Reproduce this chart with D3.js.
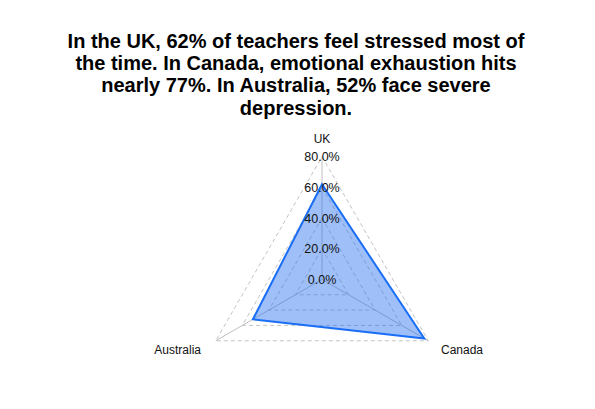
<!DOCTYPE html>
<html>
<head>
<meta charset="utf-8">
<script src="https://cdn.jsdelivr.net/npm/d3@7"></script>
<style>
  body { margin: 0; background: #fff; }
  svg { display: block; font-family: "Liberation Sans", Arial, sans-serif; }
</style>
</head>
<body>
<div id="chart"></div>
<script>
var countries = ["UK", "Canada", "Australia"];
var values = [0.62, 0.77, 0.52];
var ticks = [0, 0.2, 0.4, 0.6, 0.8];
var titleLines = [
  "In the UK, 62% of teachers feel stressed most of",
  "the time. In Canada, emotional exhaustion hits",
  "nearly 77%. In Australia, 52% face severe",
  "depression."
];

function init() {
  var w = 595;
  var h = 409;
  var cx = 322;
  var cy = 279.4;
  var radius = 122.7;

  var svg = d3.select("#chart")
    .append("svg")
    .attr("width", w)
    .attr("height", h);

  // title
  svg.append("g")
    .selectAll("text")
    .data(titleLines)
    .enter()
    .append("text")
    .attr("x", 296)
    .attr("y", (d, i) => 48 + i * 22.2)
    .attr("text-anchor", "middle")
    .attr("font-size", 20)
    .attr("font-weight", "bold")
    .attr("fill", "#000")
    .text(d => d);

  var rScale = d3.scaleLinear()
    .domain([0, d3.max(ticks)])
    .range([0, radius]);

  var angle = d3.scalePoint()
    .domain(countries)
    .range([0, 2 * Math.PI * (countries.length - 1) / countries.length]);

  function pt(c, v) {
    var a = angle(c);
    return [cx + rScale(v) * Math.sin(a), cy - rScale(v) * Math.cos(a)];
  }

  var g = svg.append("g");

  // grid rings
  g.selectAll(".ring")
    .data(ticks.filter(t => t > 0))
    .enter()
    .append("polygon")
    .attr("points", t => countries.map(c => pt(c, t).join(",")).join(" "))
    .attr("fill", "none")
    .attr("stroke", "#c4c4c4")
    .attr("stroke-width", 1)
    .attr("stroke-dasharray", "4,3");

  // spokes
  g.selectAll(".spoke")
    .data(countries)
    .enter()
    .append("line")
    .attr("x1", cx)
    .attr("y1", cy)
    .attr("x2", c => pt(c, d3.max(ticks))[0])
    .attr("y2", c => pt(c, d3.max(ticks))[1])
    .attr("stroke", "#c0c0c0")
    .attr("stroke-width", 1);

  // data area
  var line = d3.line().curve(d3.curveLinearClosed);
  g.append("path")
    .datum(countries.map((c, i) => pt(c, values[i])))
    .attr("d", line)
    .attr("fill", "rgba(26,102,240,0.42)")
    .attr("stroke", "#1a6ef5")
    .attr("stroke-width", 2)
    .attr("stroke-linejoin", "miter");

  // tick labels
  g.selectAll(".tick")
    .data(ticks)
    .enter()
    .append("text")
    .attr("x", cx)
    .attr("y", t => cy - rScale(t) + 4.5)
    .attr("text-anchor", "middle")
    .attr("font-size", 12.5)
    .attr("fill", "#111")
    .text(d3.format(".1%"));

  // axis labels
  var anchors = { "UK": "middle", "Canada": "start", "Australia": "end" };
  g.selectAll(".label")
    .data(countries)
    .enter()
    .append("text")
    .attr("x", c => c === "UK" ? cx : (c === "Canada" ? 441 : 201))
    .attr("y", c => c === "UK" ? cy - radius - 13.8 : cy + radius / 2 + 13.5)
    .attr("text-anchor", c => anchors[c])
    .attr("font-size", 12)
    .attr("fill", "#111")
    .text(c => c);
}

window.onload = init;
</script>
</body>
</html>
